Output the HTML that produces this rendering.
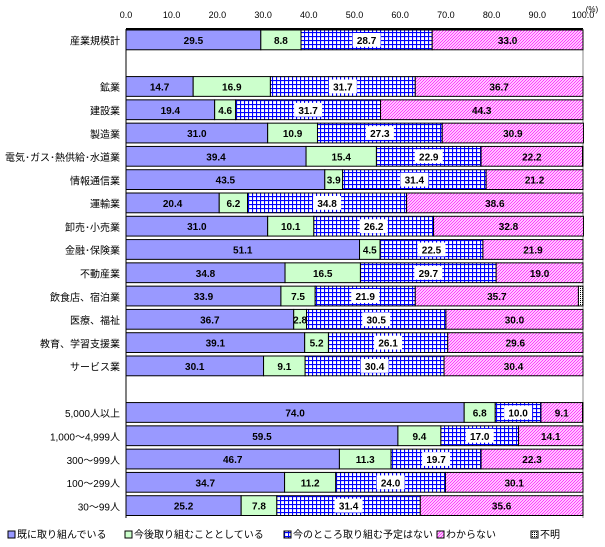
<!DOCTYPE html>
<html><head><meta charset="utf-8"><style>
body{margin:0;background:#fff;width:605px;height:542px;overflow:hidden;font-family:"Liberation Sans","Noto Sans CJK JP",sans-serif}
</style></head><body>
<svg id="chart" width="605" height="542" xmlns="http://www.w3.org/2000/svg">
<defs>
<pattern id="grid" width="4" height="4" patternUnits="userSpaceOnUse"><rect width="4" height="4" fill="#fff"/><path d="M0 0.5H4M0.5 0V4" stroke="#0000ff" stroke-width="1.2"/></pattern>
<pattern id="hatch" width="3" height="3" patternUnits="userSpaceOnUse"><rect width="3" height="3" fill="#fff"/><path d="M-1 4L4 -1M-1 1L1 -1M2 4L4 2" stroke="#ff33ff" stroke-width="1.1"/></pattern>
<pattern id="dots" width="2" height="2" patternUnits="userSpaceOnUse"><rect width="2" height="2" fill="#fff"/><rect width="1" height="1" fill="#000"/></pattern>
</defs>
</svg>
<script>
const categories=["産業規模計","","鉱業","建設業","製造業","電気･ガス･熱供給･水道業","情報通信業","運輸業","卸売･小売業","金融･保険業","不動産業","飲食店、宿泊業","医療、福祉","教育、学習支援業","サービス業","","5,000人以上","1,000～4,999人","300～999人","100～299人","30～99人"];
const s1=[29.5,null,14.7,19.4,31.0,39.4,43.5,20.4,31.0,51.1,34.8,33.9,36.7,39.1,30.1,null,74.0,59.5,46.7,34.7,25.2];
const s2=[8.8,null,16.9,4.6,10.9,15.4,3.9,6.2,10.1,4.5,16.5,7.5,2.8,5.2,9.1,null,6.8,9.4,11.3,11.2,7.8];
const s3=[28.7,null,31.7,31.7,27.3,22.9,31.4,34.8,26.2,22.5,29.7,21.9,30.5,26.1,30.4,null,10.0,17.0,19.7,24.0,31.4];
const s4=[33.0,null,36.7,44.3,30.9,22.2,21.2,38.6,32.8,21.9,19.0,35.7,30.0,29.6,30.4,null,9.1,14.1,22.3,30.1,35.6];
const ticks=["0.0","10.0","20.0","30.0","40.0","50.0","60.0","70.0","80.0","90.0","100.0"];
const seriesNames=["既に取り組んでいる","今後取り組むこととしている","今のところ取り組む予定はない","わからない","不明"];
const fills=["#9999ff","#ccffcc","url(#grid)","url(#hatch)","url(#dots)"];
const svg=document.getElementById('chart');const NS="http://www.w3.org/2000/svg";
const X0=126,X1=583,Y0=29,Y1=518;
const x=v=>X0+(X1-X0)*v/100;
const slot=(Y1-Y0)/categories.length;
const y=i=>Y0+i*slot;
function mk(t,a,p){const e=document.createElementNS(NS,t);for(const k in a)e.setAttribute(k,a[k]);(p||svg).appendChild(e);return e;}
const ax=mk('g',{});
ticks.forEach((t,i)=>{const v=parseFloat(t);const tx=mk('text',{x:x(v),y:18,'font-size':9,'text-anchor':'middle'},ax);tx.textContent=t;

mk('line',{x1:x(v),x2:x(v),y1:Y0,y2:Y0+3,stroke:'#000'},ax);});
const unit=mk('text',{x:592,y:12,'font-size':8,'text-anchor':'middle'},ax);unit.textContent="(%)";

mk('line',{x1:X0,x2:X1,y1:Y0,y2:Y0,stroke:'#000','stroke-width':2});
mk('line',{x1:X0,x2:X0,y1:Y0,y2:Y1,stroke:'#000','stroke-width':1});
mk('line',{x1:X1,x2:X1,y1:Y0,y2:Y1,stroke:'#888','stroke-width':1});
categories.forEach((c,i)=>{
  const g=mk('g',{});
  if(c){const l=mk('text',{x:120,y:y(i)+slot/2+4,'font-size':10,'text-anchor':'end'},g);l.textContent=c;
    }
  if(s1[i]==null)return;
  const vals=[s1[i],s2[i],s3[i],s4[i]];let rest=100-vals.reduce((a,b)=>a+b,0);if(rest<0)rest=0;vals.push(rest);
  let acc=0;const top=y(i)+1,h=slot-3.5;
  vals.forEach((v,k)=>{if(v<=0.05){acc+=v;return;}
    const r=mk('rect',{x:x(acc),y:top,width:x(acc+v)-x(acc),height:h,fill:fills[k],stroke:'#000','stroke-width':1},g);
    
    if(k<4){const cx=(x(acc)+x(acc+v))/2;const txt=v.toFixed(1);
      if(k==2){const w=txt.length*6+4;mk('rect',{x:cx-w/2,y:top+3,width:w,height:h-6,fill:'#fff'},g);}
      const t=mk('text',{x:cx,y:top+h/2+4,'font-size':10,'font-weight':'bold','text-anchor':'middle'},g);t.textContent=txt;
      }
    acc+=v;});
});
const lg=mk('g',{});
const lx=[8,125,284,437,531];
seriesNames.forEach((n,k)=>{const e=mk('g',{},lg);
  mk('rect',{x:lx[k],y:531,width:7,height:7,fill:fills[k],stroke:'#000'},e);
  const t=mk('text',{x:lx[k]+9,y:538,'font-size':10},e);t.textContent=n;});
</script>
</body></html>
